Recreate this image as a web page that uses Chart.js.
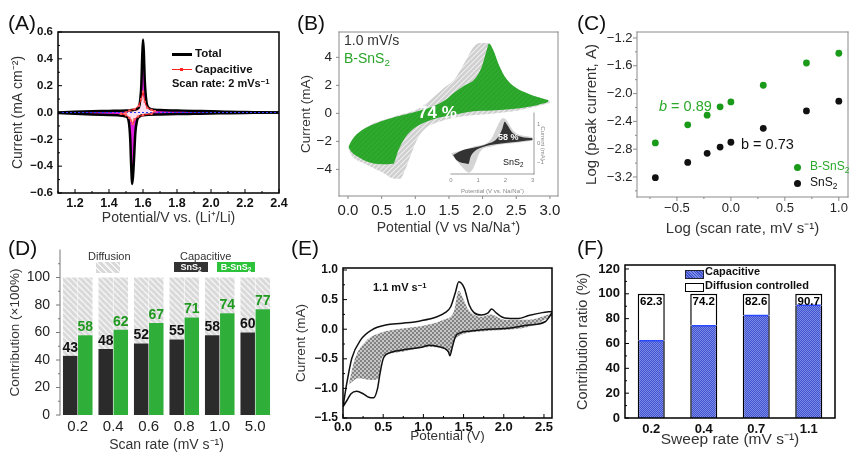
<!DOCTYPE html>
<html>
<head>
<meta charset="utf-8">
<script src="https://cdn.jsdelivr.net/npm/chart.js@4.4.1/dist/chart.umd.min.js"></script>
<style>
  html, body { margin: 0; padding: 0; background: #fff; }
  #fig { position: relative; width: 852px; height: 454px; overflow: hidden; font-family: 'Liberation Sans', Arial, sans-serif; color: #222; }
  #fig canvas { position: absolute; }
  .t { position: absolute; white-space: nowrap; line-height: 1; }
  .t sub { font-size: 0.7em; vertical-align: -0.3em; line-height: 0; }
  .t sup { font-size: 0.7em; vertical-align: 0.45em; line-height: 0; }
  .lbl { font-size: 21px; color: #111; }
  .b { font-weight: bold; }
  .box { position: absolute; }
</style>
</head>
<body>
<div id="fig">
  <canvas id="cA" width="292" height="230" style="left:0;top:0"></canvas>
  <canvas id="cB" width="285" height="240" style="left:285px;top:0"></canvas>
  <canvas id="cBin" width="110" height="88" style="left:445px;top:108px"></canvas>
  <canvas id="cC" width="282" height="240" style="left:570px;top:0"></canvas>
  <canvas id="cD" width="285" height="229" style="left:0;top:225px"></canvas>
  <canvas id="cE" width="285" height="229" style="left:285px;top:225px"></canvas>
  <canvas id="cF" width="282" height="229" style="left:570px;top:225px"></canvas>

  <div class="t lbl" style="left:8px;top:12px">(A)</div>
  <div class="t lbl" style="left:297px;top:12px">(B)</div>
  <div class="t lbl" style="left:577px;top:12px">(C)</div>
  <div class="t lbl" style="left:8px;top:237px">(D)</div>
  <div class="t lbl" style="left:291px;top:237px">(E)</div>
  <div class="t lbl" style="left:577px;top:237px">(F)</div>

  <!-- A legend -->
  <div class="box" style="left:172px;top:53px;width:20px;height:3px;background:#000"></div>
  <div class="t b" style="left:195px;top:48px;font-size:11.5px;color:#111">Total</div>
  <div class="box" style="left:172px;top:69px;width:20px;height:1px;background:#ff2020"></div>
  <div class="box" style="left:180px;top:68px;width:3px;height:3px;background:#ff2020"></div>
  <div class="t b" style="left:195px;top:64px;font-size:11.5px;color:#111">Capacitive</div>
  <div class="t b" style="left:172px;top:78px;font-size:11px;color:#111">Scan rate: 2 mVs<sup>−1</sup></div>

  <!-- B notes -->
  <div class="t" style="left:344px;top:33px;font-size:14px;color:#333">1.0 mV/s</div>
  <div class="t" style="left:344px;top:51px;font-size:14px;color:#2aa52a">B-SnS<sub>2</sub></div>
  <div class="t b" style="left:418px;top:104px;font-size:17px;color:#fff">74 %</div>
  <div class="t b" style="left:498px;top:133px;font-size:9px;color:#fff">58 %</div>
  <div class="t" style="left:503px;top:158px;font-size:9px;color:#111">SnS<sub>2</sub></div>

  <!-- C notes -->
  <div class="t" style="left:659px;top:99px;font-size:14.5px;color:#2aa82a"><i>b</i> = 0.89</div>
  <div class="t" style="left:741px;top:137px;font-size:14.5px;color:#111">b = 0.73</div>
  <div class="box" style="left:794px;top:164px;width:7px;height:7px;border-radius:50%;background:#199a19"></div>
  <div class="t" style="left:810px;top:160px;font-size:12px;color:#2aa82a">B-SnS<sub>2</sub></div>
  <div class="box" style="left:794px;top:180px;width:7px;height:7px;border-radius:50%;background:#111"></div>
  <div class="t" style="left:810px;top:176px;font-size:12px;color:#111">SnS<sub>2</sub></div>

  <!-- D legend -->
  <div class="t" style="left:88px;top:251px;font-size:11px;color:#333">Diffusion</div>
  <div class="box" style="left:96px;top:262px;width:24px;height:11px;background:repeating-linear-gradient(45deg,#d9d9d9 0 3px,#f5f5f5 3px 4.5px)"></div>
  <div class="t" style="left:180px;top:251px;font-size:11px;color:#333">Capacitive</div>
  <div class="box t b" style="left:174px;top:262px;width:34px;height:10px;background:#333;color:#fff;font-size:9px;text-align:center;line-height:10px">SnS<sub>2</sub></div>
  <div class="box t b" style="left:217px;top:262px;width:38px;height:10px;background:#2cc23a;color:#fff;font-size:9px;text-align:center;line-height:10px">B-SnS<sub>2</sub></div>

  <!-- E note -->
  <div class="t b" style="left:373px;top:282px;font-size:11px;color:#111">1.1 mV s<sup>−1</sup></div>

  <!-- F legend -->
  <div class="box" style="left:685px;top:270px;width:17px;height:7px;border:1px solid #223;background:repeating-linear-gradient(45deg,#4152cf 0 1px,#7b8be8 1px 2px)"></div>
  <div class="t b" style="left:705px;top:266px;font-size:11px;color:#111">Capacitive</div>
  <div class="box" style="left:685px;top:283px;width:17px;height:7px;border:1px solid #000;background:#fff"></div>
  <div class="t b" style="left:705px;top:280px;font-size:11px;color:#111">Diffusion controlled</div>
</div>

<script>
// ---------- data ----------
// (A) CV of total and capacitive current at 2 mV/s
const aTotUpX = [1.1, 1.2, 1.3, 1.4, 1.5, 1.55, 1.57, 1.58, 1.59, 1.595, 1.6, 1.605, 1.61, 1.62, 1.63, 1.65, 1.7, 1.8, 1.9, 2.0, 2.1, 2.2, 2.3, 2.4];
const aTotUpY = [0.0, 0.006, 0.01, 0.012, 0.015, 0.02, 0.03, 0.06, 0.2, 0.4, 0.545, 0.45, 0.25, 0.08, 0.04, 0.025, 0.018, 0.015, 0.012, 0.01, 0.005, 0.003, 0.002, 0.0];
const aTotDnX = [1.1, 1.2, 1.3, 1.4, 1.45, 1.5, 1.515, 1.525, 1.53, 1.537, 1.545, 1.555, 1.565, 1.58, 1.6, 1.7, 1.8, 1.9, 2.0, 2.1, 2.2, 2.3, 2.4];
const aTotDnY = [-0.004, -0.01, -0.015, -0.018, -0.02, -0.03, -0.06, -0.2, -0.38, -0.533, -0.4, -0.15, -0.06, -0.03, -0.02, -0.015, -0.012, -0.01, -0.008, -0.005, -0.003, -0.002, 0.0];
const aCapUpX = [1.47, 1.5, 1.52, 1.55, 1.575, 1.59, 1.6, 1.61, 1.625, 1.65, 1.67];
const aCapUpY = [-0.01, 0.0, 0.015, 0.025, 0.05, 0.1, 0.155, 0.08, 0.035, 0.02, 0.01];
const aCapDnX = [1.47, 1.5, 1.52, 1.53, 1.54, 1.55, 1.57, 1.6, 1.65, 1.67];
const aCapDnY = [-0.01, -0.02, -0.04, -0.06, -0.085, -0.05, -0.03, -0.02, -0.01, 0.01];
const aZeroX = [1.1, 2.4];
const aZeroY = [0, 0];
const aXTicks = [1.2, 1.4, 1.6, 1.8, 2.0, 2.2, 2.4];
const aYTicks = [-0.6, -0.4, -0.2, 0, 0.2, 0.4, 0.6];

// (B) B-SnS2 at 1.0 mV/s: capacitive (green) and total (grey)
const bCapUpX = [0.005, 0.054, 0.203, 0.401, 0.698, 0.996, 1.243, 1.441, 1.59, 1.738, 1.887, 1.986, 2.06, 2.095, 2.16, 2.234, 2.333, 2.48, 2.68, 2.977];
const bCapUpY = [-2.4, -1.93, -1.21, -0.74, -0.26, 0.1, 0.45, 0.93, 1.52, 2.0, 2.48, 3.31, 4.5, 4.98, 4.5, 3.55, 2.6, 1.88, 1.4, 0.93];
const bCapDnX = [0.005, 0.054, 0.154, 0.302, 0.5, 0.674, 0.698, 0.748, 0.822, 0.946, 1.095, 1.293, 1.54, 1.838, 2.135, 2.48, 2.73, 2.977];
const bCapDnY = [-2.4, -2.76, -3.12, -3.48, -3.64, -3.6, -3.36, -2.64, -1.93, -1.21, -0.74, -0.38, -0.14, 0.14, 0.21, 0.33, 0.5, 0.81];
const bTotUpX = [0.005, 0.203, 0.698, 1.045, 1.243, 1.441, 1.59, 1.738, 1.887, 1.986, 2.06, 2.095, 2.234, 2.333, 2.48, 2.68, 3.0];
const bTotUpY = [-2.52, -1.26, -0.21, 0.33, 1.05, 1.88, 2.48, 3.67, 4.86, 5.02, 5.02, 4.98, 3.55, 2.6, 1.85, 1.36, 0.93];
const bTotDnX = [0.005, 0.054, 0.253, 0.5, 0.698, 0.773, 0.847, 0.921, 1.02, 1.144, 1.342, 1.59, 1.838, 2.135, 2.53, 3.0];
const bTotDnY = [-2.52, -3.0, -3.6, -4.19, -4.67, -4.67, -4.07, -3.12, -1.93, -1.1, -0.62, -0.31, -0.14, -0.02, 0.21, 0.74];
const bXTicks = [0, 0.5, 1.0, 1.5, 2.0, 2.5, 3.0];
const bYTicks = [-4, -2, 0, 2, 4];

// (B inset) SnS2
const iCapUpX = [0.075, 0.45, 0.82, 1.32, 1.7, 1.89, 1.97, 2.07, 2.26, 2.57, 3.0];
const iCapUpY = [-0.63, -0.37, -0.25, -0.05, 0.25, 0.77, 1.12, 0.95, 0.54, 0.33, 0.25];
const iCapDnX = [0.075, 0.2, 0.51, 0.64, 0.72, 0.89, 1.2, 1.7, 2.45, 3.0];
const iCapDnY = [-0.63, -0.89, -1.07, -1.1, -0.72, -0.4, -0.19, -0.05, 0.07, 0.16];
const iTotUpX = [0.01, 0.82, 1.45, 1.76, 1.89, 2.01, 2.32, 3.0];
const iTotUpY = [-0.54, -0.19, 0.16, 1.04, 1.3, 1.25, 0.6, 0.3];
const iTotDnX = [0.01, 0.45, 0.65, 0.82, 1.07, 1.45, 2.45, 3.0];
const iTotDnY = [-0.58, -1.33, -1.56, -1.33, -0.46, -0.19, 0.02, 0.12];
const iXTicks = [0, 1, 2, 3];
const iYTicks = [-1, 0, 1];

// (C) log peak current vs log scan rate
const cLogRate = [-0.7, -0.4, -0.22, -0.1, 0, 0.3, 0.7, 1.0];
const cBsnsLogI = [-2.71, -2.45, -2.31, -2.19, -2.12, -1.88, -1.56, -1.42];
const cSnsLogI = [-3.21, -2.99, -2.86, -2.77, -2.7, -2.5, -2.25, -2.11];
const cXTicks = [-0.5, 0, 0.5, 1.0];
const cYTicks = [-3.2, -2.8, -2.4, -2.0, -1.6, -1.2];

// (D) capacitive contribution (%)
const dRates = ['0.2', '0.4', '0.6', '0.8', '1.0', '5.0'];
const dSnsCap = [43, 48, 52, 55, 58, 60];
const dBsnsCap = [58, 62, 67, 71, 74, 77];
const dYTicks = [0, 20, 40, 60, 80, 100];

// (E) CV at 1.1 mV/s: total outline and capacitive (hatched)
const eTotUpX = [0.0, 0.05, 0.11, 0.22, 0.36, 0.53, 0.74, 0.96, 1.17, 1.27, 1.34, 1.4, 1.44, 1.51, 1.57, 1.63, 1.72, 1.8, 1.85, 1.91, 2.01, 2.18, 2.31, 2.48, 2.6];
const eTotUpY = [-1.31, -0.89, -0.49, -0.18, -0.01, 0.07, 0.1, 0.14, 0.21, 0.28, 0.38, 0.63, 0.8, 0.69, 0.41, 0.28, 0.24, 0.27, 0.34, 0.27, 0.19, 0.18, 0.23, 0.28, 0.3];
const eTotDnX = [0.0, 0.05, 0.1, 0.17, 0.25, 0.32, 0.38, 0.43, 0.46, 0.5, 0.58, 0.74, 0.96, 1.08, 1.21, 1.27, 1.31, 1.33, 1.36, 1.4, 1.46, 1.59, 1.8, 2.01, 2.31, 2.52, 2.6];
const eTotDnY = [-1.31, -1.2, -1.09, -1.05, -1.09, -1.15, -1.16, -1.0, -0.75, -0.5, -0.4, -0.35, -0.31, -0.27, -0.3, -0.33, -0.38, -0.45, -0.3, -0.12, -0.06, -0.03, 0.0, 0.01, 0.07, 0.13, 0.28];
const eCapUpX = [0.07, 0.15, 0.28, 0.45, 0.74, 1.04, 1.25, 1.38, 1.44, 1.5, 1.55, 1.72, 1.84, 2.01, 2.31, 2.6];
const eCapUpY = [-0.94, -0.49, -0.21, -0.07, 0.01, 0.07, 0.16, 0.3, 0.65, 0.5, 0.35, 0.21, 0.25, 0.16, 0.16, 0.27];
const eCapDnX = [0.07, 0.19, 0.36, 0.45, 0.47, 0.53, 0.74, 1.08, 1.25, 1.33, 1.38, 1.46, 1.8, 2.31, 2.6];
const eCapDnY = [-0.94, -0.83, -0.86, -0.83, -0.55, -0.44, -0.38, -0.3, -0.32, -0.41, -0.2, -0.1, -0.03, 0.04, 0.22];
const eXTicks = [0, 0.5, 1.0, 1.5, 2.0, 2.5];
const eYTicks = [-1.5, -1.0, -0.5, 0, 0.5, 1.0];

// (F) contribution ratio (%)
const fRates = ['0.2', '0.4', '0.7', '1.1'];
const fCap = [62.3, 74.2, 82.6, 90.7];
const fYTicks = [0, 20, 40, 60, 80, 100, 120];

// ---------- helpers ----------
const FONT = "'Liberation Sans', Arial, sans-serif";
Chart.defaults.font.family = FONT;
Chart.defaults.color = '#222';

const pts = (xs, ys) => xs.map((x, i) => ({ x, y: ys[i] }));
const num = d => v => (v < 0 ? '\u2212' : '') + Math.abs(v).toFixed(d);
const catLabel = function (v) { return this.getLabelForValue(v); };

// stripes: up = '/' direction, otherwise '\'
function hatch(bg, fg, size, lw, mode) {
  const c = document.createElement('canvas');
  c.width = c.height = size;
  const g = c.getContext('2d');
  g.fillStyle = bg;
  g.fillRect(0, 0, size, size);
  g.strokeStyle = fg;
  g.lineWidth = lw;
  g.beginPath();
  for (let k = -size; k <= size; k += size) {
    if (mode !== 'up') { g.moveTo(k, 0); g.lineTo(k + size, size); }
    if (mode === 'up' || mode === 'cross') { g.moveTo(k + size, 0); g.lineTo(k, size); }
  }
  g.stroke();
  return g.createPattern(c, 'repeat');
}

function dots(a, b) {
  const c = document.createElement('canvas');
  c.width = c.height = 2;
  const g = c.getContext('2d');
  g.fillStyle = a; g.fillRect(0, 0, 2, 2);
  g.fillStyle = b; g.fillRect(1, 0, 1, 1); g.fillRect(0, 1, 1, 1);
  return g.createPattern(c, 'repeat');
}

function axis(o) {
  return {
    type: o.type || 'linear',
    min: o.min, max: o.max, position: o.pos, stacked: o.stacked,
    grid: { display: false, drawTicks: false },
    border: { display: false },
    afterBuildTicks: o.ticks ? s => { s.ticks = o.ticks.map(v => ({ value: v })); } : undefined,
    afterFit: s => {
      if (s.isHorizontal()) s.height = o.size; else s.width = o.size;
      s.paddingLeft = s.paddingRight = s.paddingTop = s.paddingBottom = 0;
    },
    ticks: { color: o.tc || '#111', font: o.tf, padding: o.tp, callback: o.fmt, autoSkip: false, maxRotation: 0 },
    title: { display: !!o.title, text: o.title, color: o.ttc || '#333', font: o.ttf, padding: o.ttp }
  };
}

// box, border lines and tick marks drawn through the chart's own scales
const frame = {
  id: 'frame',
  afterDatasetsDraw(chart, args, o) {
    if (!o.sides) return;
    const { ctx, chartArea: a } = chart;
    ctx.save();
    ctx.strokeStyle = o.color;
    ctx.lineWidth = o.width;
    ctx.lineCap = 'square';
    ctx.beginPath();
    if (o.sides.includes('l')) { ctx.moveTo(a.left, a.top); ctx.lineTo(a.left, a.bottom); }
    if (o.sides.includes('r')) { ctx.moveTo(a.right, a.top); ctx.lineTo(a.right, a.bottom); }
    if (o.sides.includes('t')) { ctx.moveTo(a.left, a.top); ctx.lineTo(a.right, a.top); }
    if (o.sides.includes('b')) { ctx.moveTo(a.left, a.bottom); ctx.lineTo(a.right, a.bottom); }
    ctx.stroke();
    ctx.lineWidth = 1;
    ctx.lineCap = 'butt';
    ctx.beginPath();
    const marks = (scale, vertical) => {
      const vals = scale.ticks.map(t => t.value);
      const list = vals.map(v => [v, o.len]);
      if (o.minorLen && vals.length > 1) {
        const st = vals[1] - vals[0];
        for (let v = vals[0] - st / 2; v <= scale.max + 1e-9; v += st) {
          if (v >= scale.min - 1e-9) list.push([v, o.minorLen]);
        }
      }
      list.forEach(([v, len]) => {
        const p = scale.getPixelForValue(v);
        if (vertical) { ctx.moveTo(a.left, p); ctx.lineTo(a.left + o.dir * len, p); }
        else { ctx.moveTo(p, a.bottom); ctx.lineTo(p, a.bottom - o.dir * len); }
      });
    };
    if (o.xTicks) marks(chart.scales.x, false);
    if (o.yTicks) marks(chart.scales.y, true);
    ctx.stroke();
    ctx.restore();
  }
};

// numbers on the bars
const barLabels = {
  id: 'barLabels',
  afterDatasetsDraw(chart, args, o) {
    if (!o.items) return;
    const ctx = chart.ctx;
    ctx.save();
    if (o.edge) {
      ctx.strokeStyle = o.edge.color;
      ctx.lineWidth = o.edge.width;
      ctx.beginPath();
      chart.getDatasetMeta(o.edge.ds).data.forEach(bar => {
        ctx.moveTo(bar.x - bar.width / 2 + 1.5, bar.y);
        ctx.lineTo(bar.x + bar.width / 2 - 1.5, bar.y);
      });
      ctx.stroke();
    }
    o.items.forEach(it => {
      const meta = chart.getDatasetMeta(it.at);
      const vals = chart.data.datasets[it.from].data;
      ctx.font = it.font;
      ctx.fillStyle = it.color;
      ctx.textAlign = 'center';
      ctx.textBaseline = it.inside ? 'top' : 'bottom';
      meta.data.forEach((bar, i) => {
        const txt = it.digits ? vals[i].toFixed(it.digits) : String(vals[i]);
        ctx.fillText(txt, bar.x, it.inside ? bar.y + it.gap : bar.y - it.gap);
      });
    });
    ctx.restore();
  }
};
Chart.register(frame, barLabels);

function base(pad, scales, extra) {
  return {
    responsive: false,
    animation: false,
    layout: { padding: Object.assign({ left: 0, right: 0, top: 0, bottom: 0 }, pad) },
    scales,
    plugins: Object.assign({
      legend: { display: false },
      tooltip: { enabled: false },
      filler: { drawTime: 'beforeDatasetsDraw' }
    }, extra)
  };
}

const line = (xs, ys, o) => Object.assign({
  data: pts(xs, ys), pointRadius: 0, borderWidth: 1, fill: false, cubicInterpolationMode: 'monotone'
}, o);
const area = (xs, ys, bg, toNext) => line(xs, ys, {
  borderColor: 'rgba(0,0,0,0)', backgroundColor: bg, fill: toNext ? '+1' : false
});

// ---------- (A) ----------
const capPt = { borderColor: '#ff1a1a', borderWidth: 1, pointRadius: 1.6, pointStyle: 'rect',
  pointBackgroundColor: '#ff5a5a', pointBorderWidth: 0, cubicInterpolationMode: 'default' };
new Chart(document.getElementById('cA'), {
  type: 'line',
  data: { datasets: [
    line(aCapUpX, aCapUpY, Object.assign({ fill: '+1', backgroundColor: '#ffe0f0' }, capPt)),
    line(aCapDnX, aCapDnY, capPt),
    line(aZeroX, aZeroY, { borderColor: '#2a3cff', borderDash: [2, 2], borderWidth: 1 }),
    line(aTotUpX, aTotUpY, { borderColor: '#000', borderWidth: 2.5, fill: '+1', backgroundColor: '#e31ee3' }),
    line(aTotDnX, aTotDnY, { borderColor: '#000', borderWidth: 2.5 })
  ] },
  options: base({ top: 32, right: 13 }, {
    x: axis({ min: 1.1, max: 2.4, ticks: aXTicks, size: 37, fmt: num(1), tf: { size: 12.5, weight: 'bold' }, tp: 3,
      title: 'Potential/V vs. (Li\u207A/Li)', ttf: { size: 14 }, ttp: { top: 0, bottom: 3 } }),
    y: axis({ min: -0.6, max: 0.6, ticks: aYTicks, size: 58, fmt: num(1), tf: { size: 11.5, weight: 'bold' }, tp: 5,
      title: 'Current (mA cm\u207B\u00B2)', ttf: { size: 14 }, ttp: { top: 10, bottom: 0 } })
  }, { frame: { sides: 'lrtb', color: '#000', width: 1.5, len: 4, minorLen: 2, dir: 1, xTicks: true, yTicks: true } })
});

// ---------- (B) ----------
const grayB = hatch('#cfcfcf', '#efefef', 5, 1.2, 'up');
const greenB = hatch('#2aa52a', '#33ad33', 5, 1.2, 'up');
new Chart(document.getElementById('cB'), {
  type: 'line',
  data: { datasets: [
    area(bCapUpX, bCapUpY, greenB, true),
    area(bCapDnX, bCapDnY, greenB, false),
    area(bTotUpX, bTotUpY, grayB, true),
    area(bTotDnX, bTotDnY, grayB, false)
  ] },
  options: base({ top: 32, right: 12 }, {
    x: axis({ min: -0.134, max: 3.12, ticks: bXTicks, size: 44, fmt: num(1), tf: { size: 15 }, tp: 5.5, tc: '#222',
      title: 'Potential (V vs Na/Na\u207A)', ttf: { size: 14 }, ttp: { top: 0, bottom: 3 } }),
    y: axis({ min: -5.9, max: 5.81, ticks: bYTicks, size: 54, fmt: num(0), tf: { size: 13.5 }, tp: 7, tc: '#222',
      title: 'Current (mA)', ttf: { size: 13.5 }, ttp: { top: 13.5, bottom: 0 } })
  }, { frame: { sides: 'lrtb', color: '#8a8a8a', width: 1, len: 3, minorLen: 0, dir: -1, xTicks: true, yTicks: true } })
});

// inset
new Chart(document.getElementById('cBin'), {
  type: 'line',
  data: { datasets: [
    area(iCapUpX, iCapUpY, '#333333', true),
    area(iCapDnX, iCapDnY, '#333333', false),
    area(iTotUpX, iTotUpY, '#d4d4d4', true),
    area(iTotDnX, iTotDnY, '#d4d4d4', false)
  ] },
  options: base({ top: 5, left: 6 }, {
    x: axis({ min: 0, max: 3.05, ticks: iXTicks, size: 22, fmt: num(0), tf: { size: 6 }, tp: 3, tc: '#888',
      title: 'Potential (V vs. Na/Na\u207A)', ttc: '#888', ttf: { size: 6 }, ttp: { top: 0, bottom: 1 } }),
    y: axis({ min: -1.63, max: 1.58, pos: 'right', ticks: iYTicks, size: 21, fmt: num(0), tf: { size: 6 }, tp: 3, tc: '#888',
      title: 'Current (mA)', ttc: '#888', ttf: { size: 6 }, ttp: { top: 9, bottom: 0 } })
  }, { frame: { sides: 'rb', color: '#999', width: 1, len: 0, dir: -1 } })
});

// ---------- (C) ----------
new Chart(document.getElementById('cC'), {
  type: 'scatter',
  data: { datasets: [
    { data: pts(cLogRate, cBsnsLogI), backgroundColor: '#199a19', borderWidth: 0, pointRadius: 3.4 },
    { data: pts(cLogRate, cSnsLogI), backgroundColor: '#111', borderWidth: 0, pointRadius: 3.4 }
  ] },
  options: base({ top: 32, right: 0 }, {
    x: axis({ min: -0.87, max: 1.085, ticks: cXTicks, size: 43, fmt: num(1), tf: { size: 13 }, tp: 3.5, tc: '#222',
      title: 'Log (scan rate, mV s\u207B\u00B9)', ttf: { size: 15 }, ttp: { top: 0, bottom: 2 } }),
    y: axis({ min: -3.488, max: -1.114, ticks: cYTicks, size: 67, fmt: num(1), tf: { size: 13 }, tp: 4.5, tc: '#222',
      title: 'Log (peak current, A)', ttf: { size: 15 }, ttp: { top: 12.5, bottom: 0 } })
  }, { frame: { sides: 'lrtb', color: '#8a8a8a', width: 1, len: 4, minorLen: 2, dir: -1, xTicks: true, yTicks: true } })
});

// ---------- (D) ----------
const grayD = hatch('#d9d9d9', '#f4f4f4', 6, 1.5);
const optD = base({ top: 25, right: 12 }, {
  x: axis({ type: 'category', stacked: true, size: 39, fmt: catLabel, tf: { size: 15 }, tp: 2.7, tc: '#222',
    title: 'Scan rate (mV s\u207B\u00B9)', ttf: { size: 14 }, ttp: { top: 0, bottom: 0.6 } }),
  y: axis({ min: 0, max: 120, stacked: true, ticks: dYTicks, size: 60, fmt: num(0), tf: { size: 14 }, tp: 10, tc: '#222',
    title: 'Contribution (\u00D7100%)', ttf: { size: 13.5 }, ttp: { top: 7, bottom: 0 } })
}, {
  frame: { sides: 'l', color: '#777', width: 1, len: 4, minorLen: 2, dir: -1, xTicks: false, yTicks: true },
  barLabels: { items: [
    { at: 0, from: 0, color: '#111', font: 'bold 14px ' + FONT, gap: 1 },
    { at: 2, from: 2, color: '#1f9a1f', font: 'bold 14px ' + FONT, gap: 1 }
  ] }
});
optD.datasets = { bar: { categoryPercentage: 0.85, barPercentage: 0.96 } };
new Chart(document.getElementById('cD'), {
  type: 'bar',
  data: { labels: dRates, datasets: [
    { data: dSnsCap, backgroundColor: '#2b2b2b', stack: 'sns' },
    { data: dSnsCap.map(v => 100 - v), backgroundColor: grayD, stack: 'sns' },
    { data: dBsnsCap, backgroundColor: '#2fae3a', stack: 'bsns' },
    { data: dBsnsCap.map(v => 100 - v), backgroundColor: grayD, stack: 'bsns' }
  ] },
  options: optD
});

// ---------- (E) ----------
const crossE = hatch('#c6c6c6', '#7c7c7c', 4, 0.9, 'cross');
new Chart(document.getElementById('cE'), {
  type: 'line',
  data: { datasets: [
    line(eTotUpX, eTotUpY, { borderColor: '#111', borderWidth: 1.5 }),
    line(eTotDnX, eTotDnY, { borderColor: '#111', borderWidth: 1.5 }),
    area(eCapUpX, eCapUpY, crossE, true),
    area(eCapDnX, eCapDnY, crossE, false)
  ] },
  options: base({ top: 43, right: 18 }, {
    x: axis({ min: 0, max: 2.6, ticks: eXTicks, size: 36, fmt: num(1), tf: { size: 13, weight: 'bold' }, tp: 1.5,
      title: 'Potential (V)', ttf: { size: 13.5 }, ttp: { top: 0, bottom: 10 } }),
    y: axis({ min: -1.5, max: 1.034, ticks: eYTicks, size: 58, fmt: num(1), tf: { size: 12, weight: 'bold' }, tp: 5,
      title: 'Current (mA)', ttf: { size: 13.5 }, ttp: { top: 8.6, bottom: 0 } })
  }, { frame: { sides: 'lrtb', color: '#000', width: 1.5, len: 4, minorLen: 2, dir: 1, xTicks: true, yTicks: true } })
});

// ---------- (F) ----------
const blueF = dots('#4152cf', '#7b8be8');
const optF = base({ top: 40, right: 17 }, {
  x: axis({ type: 'category', stacked: true, size: 36, fmt: catLabel, tf: { size: 13, weight: 'bold' }, tp: 3.2,
    title: 'Sweep rate (mV s\u207B\u00B9)', ttf: { size: 15.5 }, ttp: { top: 0, bottom: 5 } }),
  y: axis({ min: 0, max: 123.2, stacked: true, ticks: fYTicks, size: 55, fmt: num(0), tf: { size: 13, weight: 'bold' }, tp: 5,
    title: 'Contribution ratio (%)', ttf: { size: 14.5 }, ttp: { top: 4.5, bottom: 0 } })
}, {
  frame: { sides: 'lrtb', color: '#000', width: 1.5, len: 4, minorLen: 2, dir: 1, xTicks: false, yTicks: true },
  barLabels: {
    edge: { ds: 0, color: '#2b48ff', width: 1.5 },
    items: [{ at: 1, from: 0, color: '#000', font: 'bold 11.5px ' + FONT, gap: 2.5, inside: true, digits: 1 }]
  }
});
optF.datasets = { bar: { categoryPercentage: 1, barPercentage: 0.515 } };
new Chart(document.getElementById('cF'), {
  type: 'bar',
  data: { labels: fRates, datasets: [
    { data: fCap, backgroundColor: blueF, borderColor: '#000', borderWidth: { left: 1.5, right: 1.5, top: 0, bottom: 0 }, borderSkipped: false, stack: 's' },
    { data: fCap.map(v => 100 - v), backgroundColor: '#fff', borderColor: '#000', borderWidth: { left: 1.5, right: 1.5, top: 1.5, bottom: 0 }, borderSkipped: false, stack: 's' }
  ] },
  options: optF
});
</script>
</body>
</html>
